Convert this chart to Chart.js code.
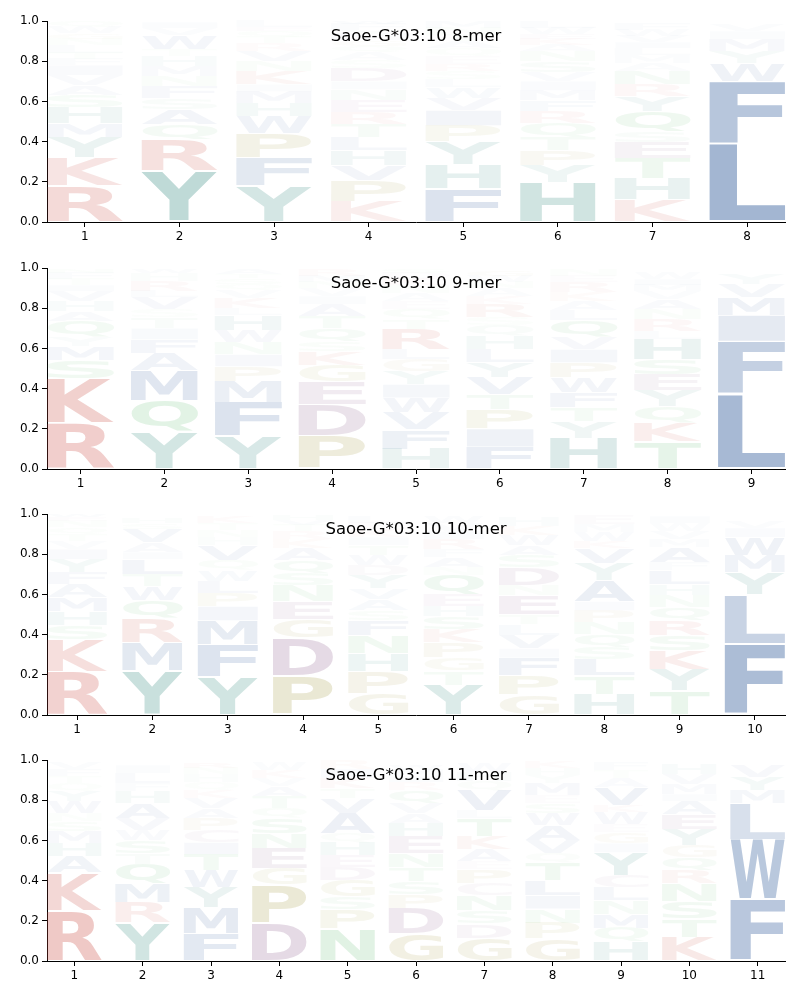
<!DOCTYPE html>
<html>
<head>
<meta charset="utf-8">
<script src="https://cdn.jsdelivr.net/npm/chart.js@4.4.1/dist/chart.umd.min.js"></script>
<style>
  body { margin: 0; background: #fff; }
  canvas { position: absolute; left: 0; }
</style>
</head>
<body>
<canvas id="c8" width="800" height="246" style="top:0px"></canvas>
<canvas id="c9" width="800" height="246" style="top:247px"></canvas>
<canvas id="c10" width="800" height="246" style="top:493px"></canvas>
<canvas id="c11" width="800" height="246" style="top:739px"></canvas>
<script>
// letters per position, listed from bottom to top, with their heights (probabilities)
const letters8 = ['RKYMHSAVIFTLNGWQ', 'YRQASFNMHTWVI', 'YFPWHMIKNVRTQEL', 'KPVHLTRENIDSAQGMYFW',
  'FHYPIVWLSREQATNM', 'HYPTQRFMIVSNAKEWL', 'KHTESQYRNAMLIVWF', 'LFWYMIV']
const heights8 = [
  [.18, .14, .10, .07, .08, .06, .05, .05, .05, .03, .03, .04, .03, .03, .03, .03],
  [.255, .155, .075, .075, .055, .06, .05, .05, .05, .035, .07, .035, .03],
  [.18, .14, .12, .085, .065, .06, .035, .065, .05, .05, .04, .03, .03, .02, .03],
  [.10, .105, .075, .075, .065, .065, .06, .06, .055, .04, .065, .04, .04, .03, .03, .03, .02, .03, .015],
  [.165, .12, .115, .08, .075, .06, .055, .04, .04, .035, .04, .04, .035, .035, .03, .03],
  [.195, .085, .075, .065, .07, .06, .055, .05, .045, .045, .055, .05, .03, .03, .025, .03, .03],
  [.11, .105, .10, .08, .055, .10, .075, .06, .065, .04, .04, .035, .03, .03, .03, .03],
  [.39, .31, .09, .06, .06, .04, .03]
]

const letters9 = ['RKSMYQAHVITFN', 'YQMAFITSVLRHW', 'YFMPINWHLKVQSTA', 'PDEGKSQTAIVNMR',
  'HFVWIYGLRTQEANKDS', 'FIPTVYLHQSRKANWG', 'HYTFWPIVQLAKREN', 'TKQYESHLRNAVMIW', 'LFIMVY']
const heights9 = [
  [.23, .22, .09, .07, .045, .08, .05, .05, .05, .03, .03, .03, .02],
  [.185, .155, .15, .085, .07, .055, .055, .04, .06, .03, .05, .04, .02],
  [.165, .165, .105, .075, .06, .06, .06, .075, .035, .05, .04, .03, .03, .02, .025],
  [.165, .155, .115, .08, .07, .05, .065, .06, .06, .04, .04, .03, .03, .03],
  [.10, .095, .085, .075, .065, .065, .06, .05, .10, .05, .05, .04, .04, .04, .03, .03, .02],
  [.11, .09, .095, .075, .085, .075, .065, .065, .055, .04, .065, .04, .04, .03, .03, .03],
  [.155, .08, .07, .075, .075, .075, .065, .06, .085, .05, .045, .045, .05, .03, .03],
  [.135, .095, .08, .08, .08, .075, .10, .04, .06, .05, .05, .04, .03, .03, .035],
  [.375, .26, .13, .09, .065, .05]
]

const letters10 = ['RKSHMAFYIVTQNEW', 'YMRQWTLIAVSH', 'YFMIPLWQVHNTK', 'PDGENSQAKRTVH',
  'GPHNFSAVYDWTIKEL', 'YTGPKSHEQNAFRIVW', 'GPFIVLTENDSAWKH', 'HTLSQNPIAYVKWME',
  'TYKSRQNHLFAMVWI', 'FLYMWIV']
const heights10 = [
  [.215, .16, .07, .07, .07, .065, .06, .065, .05, .04, .035, .035, .03, .02, .015],
  [.22, .14, .12, .09, .07, .06, .075, .035, .05, .065, .03, .025],
  [.19, .16, .12, .07, .065, .06, .055, .05, .075, .04, .035, .035, .03],
  [.195, .19, .09, .09, .08, .06, .065, .06, .045, .04, .03, .025, .025],
  [.105, .11, .09, .09, .075, .05, .055, .055, .065, .05, .05, .05, .04, .04, .03, .03],
  [.15, .07, .065, .075, .065, .065, .05, .06, .095, .04, .05, .04, .05, .04, .04, .035],
  [.10, .095, .09, .045, .065, .055, .05, .095, .05, .09, .06, .05, .05, .045, .045],
  [.105, .09, .08, .06, .065, .06, .06, .045, .105, .085, .075, .035, .045, .04, .045],
  [.12, .105, .095, .075, .075, .065, .06, .055, .07, .04, .075, .04, .04, .04, .035],
  [.355, .245, .11, .085, .09, .045, .03]
]

const letters11 = ['RKAHMSNWYQTFV', 'YRMQTSWVAHFLI', 'FMYWTICPAVKQHNR', 'DPGENSQTAVKW',
  'NPSGDEHQAVTKIR', 'GDPSTNEHAVQRIMW', 'GDSNCPEAKTLVQHW', 'GPNILTQVAWSEMYHK',
  'HQMNLCYIGEWKVATF', 'KTSNRQGYEAIMVH', 'FWLMYV']
const heights11 = [
  [.25, .19, .08, .065, .06, .05, .04, .06, .05, .04, .035, .035, .03],
  [.19, .10, .095, .095, .055, .065, .05, .06, .075, .06, .04, .05, .04],
  [.135, .13, .10, .085, .08, .06, .06, .06, .05, .05, .04, .04, .04, .03, .025],
  [.19, .19, .08, .10, .075, .075, .05, .06, .05, .04, .04, .04],
  [.16, .095, .065, .08, .065, .06, .065, .045, .10, .075, .05, .05, .045, .045],
  [.135, .125, .07, .065, .07, .07, .085, .065, .05, .05, .065, .04, .03, .03, .025],
  [.115, .07, .065, .075, .06, .07, .04, .06, .065, .09, .04, .10, .045, .045, .045],
  [.11, .08, .07, .065, .075, .09, .045, .065, .075, .06, .05, .04, .06, .04, .035, .035],
  [.095, .07, .07, .065, .065, .06, .115, .045, .055, .04, .06, .035, .09, .045, .04, .04],
  [.12, .09, .085, .09, .065, .065, .06, .08, .075, .065, .035, .05, .05, .05],
  [.305, .30, .18, .065, .065, .06]
]

const titles = ['Saoe-G*03:10 8-mer', 'Saoe-G*03:10 9-mer', 'Saoe-G*03:10 10-mer', 'Saoe-G*03:10 11-mer']

// colour groups (chemistry)
const red = [200, 70, 60], purple = [130, 80, 130], teal = [40, 130, 120]
const blue = [60, 100, 160], green = [80, 180, 100], olive = [160, 150, 60], mauve = [150, 90, 140]
const letterColor = {
  K: red, R: red, D: purple, E: purple, H: teal, Y: teal,
  A: blue, V: blue, L: blue, I: blue, M: blue, F: blue, W: blue,
  S: green, T: green, N: green, Q: green, P: olive, G: olive, C: mauve
}

// rarer letters are paler
function rgba(letter, h) {
  let c = letterColor[letter] || blue
  let a = Math.min(1, Math.max(0.02, 1.3 * h - 0.035))
  return `rgba(${c[0]},${c[1]},${c[2]},${a})`
}

// draws each letter stretched into its bar rectangle
const logoPlugin = {
  id: 'logo',
  afterDatasetsDraw(chart, args, opts) {
    const ctx = chart.ctx
    const letters = opts.letters
    chart.data.datasets.forEach((ds, k) => {
      const meta = chart.getDatasetMeta(k)
      meta.data.forEach((el, i) => {
        const p = el.getProps(['x', 'y', 'base', 'width'], true)
        const hv = ds.data[i].y
        const letter = letters[i][k]
        if (!letter || !hv) return
        let top = Math.min(p.y, p.base), bot = Math.max(p.y, p.base)
        let pad = (bot - top) * 0.02
        top += pad; bot -= pad
        const rh = bot - top
        if (rh < 0.5) return
        ctx.save()
        ctx.font = 'bold 100px "DejaVu Sans"'
        const m = ctx.measureText(letter)
        const gw = m.actualBoundingBoxLeft + m.actualBoundingBoxRight
        const gh = m.actualBoundingBoxAscent + m.actualBoundingBoxDescent
        ctx.translate(p.x - p.width / 2, top)
        ctx.scale(p.width / gw, rh / gh)
        ctx.fillStyle = rgba(letter, hv)
        ctx.textBaseline = 'alphabetic'
        ctx.textAlign = 'left'
        ctx.fillText(letter, m.actualBoundingBoxLeft, m.actualBoundingBoxAscent)
        ctx.restore()
      })
    })
  },
  afterDraw(chart, args, opts) {
    const ctx = chart.ctx
    const a = chart.chartArea
    ctx.save()
    ctx.font = '16.5px "DejaVu Sans"'
    ctx.fillStyle = '#000'
    ctx.textAlign = 'center'
    ctx.textBaseline = 'middle'
    ctx.fillText(opts.title, (a.left + a.right) / 2, a.top + 16)
    ctx.restore()
  }
}

function buildLogo(canvasId, letters, heights, title) {
  const n = letters.length
  let maxLayers = Math.max(...letters.map(s => s.length))
  let datasets = []
  for (let k = 0; k < maxLayers; k++) {
    datasets.push({
      data: heights.map((col, i) => ({ x: i + 1, y: col[k] || 0 })),
      backgroundColor: 'rgba(0,0,0,0)',
      borderWidth: 0
    })
  }

  const config = {
    type: 'bar',
    data: { datasets },
    options: {
      responsive: false,
      animation: false,
      devicePixelRatio: 1,
      categoryPercentage: 1,
      barPercentage: 0.8,
      layout: { padding: { left: 0, right: 15, top: 21, bottom: 0 } },
      plugins: {
        legend: { display: false },
        tooltip: { enabled: false },
        logo: { letters: letters, title: title }
      },
      scales: {
        x: {
          type: 'linear',
          stacked: true,
          offset: false,
          min: 0.6,
          max: n + 0.4,
          afterFit: s => { s.height = 24 },
          ticks: {
            stepSize: 1,
            includeBounds: false,
            autoSkip: false,
            maxRotation: 0,
            padding: 3,
            color: '#000',
            font: { family: 'DejaVu Sans', size: 12 },
            callback: v => Number.isInteger(v) ? v : ''
          },
          grid: { offset: false, drawOnChartArea: false, drawTicks: true, tickLength: 5, color: '#000' },
          border: { display: true, color: '#000', width: 1 }
        },
        y: {
          stacked: true,
          min: 0,
          max: 1,
          afterFit: s => { s.width = 47 },
          ticks: {
            stepSize: 0.2,
            padding: 3,
            color: '#000',
            font: { family: 'DejaVu Sans', size: 12 },
            callback: v => v.toFixed(1)
          },
          grid: { drawOnChartArea: false, drawTicks: true, tickLength: 5, color: '#000' },
          border: { display: true, color: '#000', width: 1 }
        }
      }
    },
    plugins: [logoPlugin]
  }

  return new Chart(document.getElementById(canvasId), config)
}

buildLogo('c8', letters8, heights8, titles[0])
buildLogo('c9', letters9, heights9, titles[1])
buildLogo('c10', letters10, heights10, titles[2])
buildLogo('c11', letters11, heights11, titles[3])
</script>
</body>
</html>
